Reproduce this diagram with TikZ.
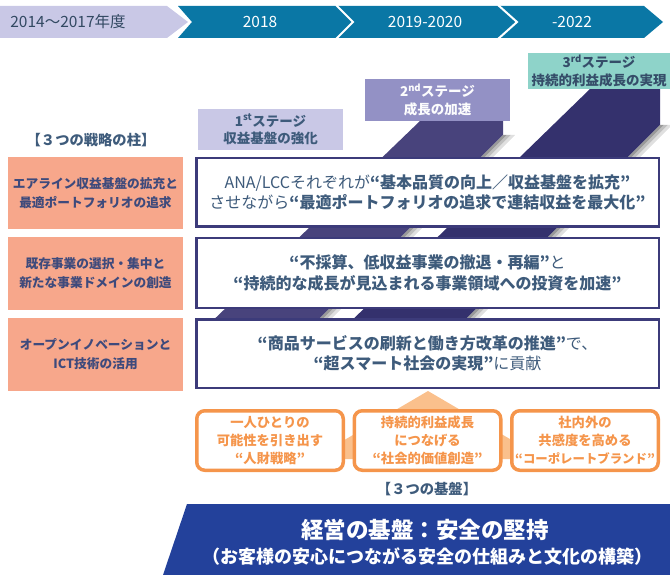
\documentclass[tikz,border=0pt]{standalone}
\usepackage{fontspec}
\setmainfont{Noto Sans CJK JP}
\definecolor{lav}{HTML}{C9C8E6}
\definecolor{barblue}{HTML}{0A77A5}
\definecolor{stagetwo}{HTML}{9391C5}
\definecolor{stagethree}{HTML}{8ED3C9}
\definecolor{stripeL}{HTML}{48437C}
\definecolor{stripeD}{HTML}{34316D}
\definecolor{boxborder}{HTML}{3C3B7A}
\definecolor{pillarc}{HTML}{F7A78B}
\definecolor{pillartext}{HTML}{3E4A7C}
\definecolor{textblue}{HTML}{3E5B7B}
\definecolor{orangec}{HTML}{F5954B}
\definecolor{orangelight}{HTML}{FAC08C}
\definecolor{bannerc}{HTML}{23419B}
\tikzset{
  barlabel/.style={text=white, font=\fontsize{15.5}{17}\selectfont, inner sep=0},
  stagebox/.style={minimum width=145pt, minimum height=41pt, inner sep=0, align=center, font=\bfseries\fontsize{13.5}{17.5}\selectfont},
  mainbox/.style={draw=boxborder, line width=2.5pt, fill=white, minimum width=462.5pt, minimum height=68.5pt, inner sep=0, align=center, text=textblue, font=\fontsize{16}{20.5}\selectfont},
  pillar/.style={fill=pillarc, minimum width=175pt, minimum height=72pt, inner sep=0, align=center, text=pillartext, font=\bfseries\fontsize{12.7}{19}\selectfont},
  found/.style={draw=orangec, line width=3.5pt, fill=white, rounded corners=8pt, minimum width=146.5pt, minimum height=59.5pt, inner sep=0, align=center, text=orangec, font=\bfseries\fontsize{13.3}{18}\selectfont},
  headlabel/.style={text=textblue, font=\bfseries\fontsize{14.3}{16}\selectfont, inner sep=0},
}
\begin{document}
\begin{tikzpicture}[x=1pt,y=-1pt]
\useasboundingbox (0,0) rectangle (670,575);
% top timeline bar
\fill[lav] (0,6) -- (167,6) -- (188,22) -- (167,38) -- (0,38) -- cycle;
\fill[barblue] (178,6) -- (644,6) -- (663,22) -- (644,38) -- (178,38) -- (192,22) -- cycle;
\draw[white, line width=2pt] (336,5) -- (353,22) -- (336,39);
\draw[white, line width=2pt] (498,5) -- (517,22) -- (498,39);
\node[barlabel, text=textblue!80!black] (y0) at (68,22) {2014～2017年度};
\node[barlabel] (y1) at (260,22) {2018};
\node[barlabel] (y2) at (425,22) {2019-2020};
\node[barlabel] (y3) at (572,22) {-2022};
% stripes
\fill[stripeL] (420,121) -- (503,121) -- (503,135) -- (308,330) -- (203,330) -- cycle;
\foreach \k/\c in {0/40,1/25,2/12}{
  \fill[black!\c] (503+4*\k,135) -- (507+4*\k,135) -- (312+4*\k,330) -- (308+4*\k,330) -- cycle;
}
\fill[stripeD] (590,89) -- (660,89) -- (660,125) -- (455,330) -- (342,330) -- cycle;
\foreach \k/\c in {0/40,1/25,2/12}{
  \fill[black!\c] (660+4*\k,125) -- (664+4*\k,125) -- (459+4*\k,330) -- (455+4*\k,330) -- cycle;
}
% stage boxes
\node[stagebox, fill=lav, text=textblue] (s1) at (270.5,129.5) {1\textsuperscript{st}ステージ\\収益基盤の強化};
\node[stagebox, fill=stagetwo, text=white!94!lav, minimum height=42pt] (s2) at (437.5,100) {2\textsuperscript{nd}ステージ\\成長の加速};
\node[stagebox, fill=stagethree, text=textblue!85!black, minimum width=142pt, minimum height=36pt] (s3) at (599,71) {3\textsuperscript{rd}ステージ\\持続的利益成長の実現};
% heading
\node[headlabel] (hd1) at (91,140) {【３つの戦略の柱】};
% pillars
\node[pillar] (p1) at (95.5,193) {エアライン収益基盤の拡充と\\最適ポートフォリオの追求};
\node[pillar, minimum height=73pt] (p2) at (95.5,273.5) {既存事業の選択・集中と\\新たな事業ドメインの創造};
\node[pillar, minimum height=73pt] (p3) at (95.5,354.5) {オープンイノベーションと\\ICT技術の活用};
% roof behind foundations
\fill[orangelight] (428,391) -- (544,459) -- (312,459) -- cycle;
% main boxes
\node[mainbox] (m1) at (427.5,192.5) {ANA/LCCそれぞれが\textbf{“基本品質の向上／収益基盤を拡充”}\\させながら\textbf{“最適ポートフォリオの追求で連結収益を最大化”}};
\node[mainbox, minimum height=69.5pt] (m2) at (427.5,273) {\textbf{“不採算、低収益事業の撤退・再編”}と\\\textbf{“持続的な成長が見込まれる事業領域への投資を加速”}};
\node[mainbox] (m3) at (427.5,353.5) {\textbf{“商品サービスの刷新と働き方改革の推進”}で、\\\textbf{“超スマート社会の実現”}に貢献};
% foundations
\node[found] (fa) at (270,440.5) {一人ひとりの\\可能性を引き出す\\“人財戦略”};
\node[found] (fb) at (427.5,440.5) {持続的利益成長\\につなげる\\“社会的価値創造”};
\node[found] (fc) at (585,440.5) {社内外の\\共感度を高める\\{\fontsize{12.4}{18}\selectfont“コーポレートブランド”}};
\node[headlabel] (hd2) at (427,489) {【３つの基盤】};
% banner
\fill[bannerc] (187,504) -- (670,504) -- (670,575) -- (163,575) -- cycle;
\node[text=white, font=\bfseries\fontsize{22.5}{24}\selectfont, inner sep=0] (b1) at (425,530) {経営の基盤：安全の堅持};
\node[text=white, font=\bfseries\fontsize{18}{20}\selectfont, inner sep=0] (b2) at (427,557) {（お客様の安心につながる安全の仕組みと文化の構築）};
\end{tikzpicture}
\end{document}
